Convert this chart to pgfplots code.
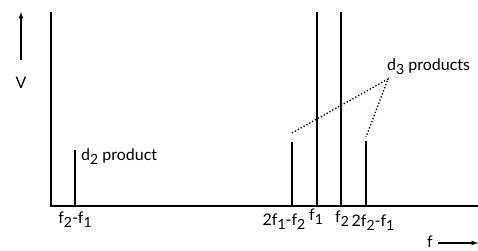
\documentclass[border=0pt]{standalone}
\usepackage{pgfplots}
\pgfplotsset{compat=1.18}
\usepackage{fontspec}
\setmainfont{Lato}
\newcommand\sub[1]{\raisebox{-0.5ex}{\fontsize{14}{14}\selectfont #1}}
\tikzset{lbl/.style={font=\fontsize{16}{16}\selectfont, inner sep=1pt}}
\begin{document}
\begin{tikzpicture}
\begin{axis}[
  x=1pt, y=1pt,
  xmin=0, xmax=478, ymin=-44, ymax=206,
  hide axis, clip=false,
]
% axes
\addplot[black, line width=1.4pt] coordinates {(51,194) (51,0) (478,0)};
% spectral lines
\addplot[ycomb, black, line width=2.6pt, mark=none] coordinates {
  (75,56) (292,64) (317,194) (341,194) (366,65)};
% dotted pointers
\addplot[black, line width=1.3pt, dotted] coordinates {(292,73) (388,127) (366,69)};
% y arrow and label
\addplot[black, line width=1.2pt, -latex] coordinates {(21,146) (21,194)};
\node[lbl] at (axis cs:21,123) {V};
% annotations
\node[lbl, anchor=west] at (axis cs:80,49) {d\sub{2} product};
\node[lbl, anchor=west] at (axis cs:386,139) {d\sub{3} products};
% tick labels
\node[lbl, anchor=base] at (axis cs:75,-17) {f\sub{2}-f\sub{1}};
\node[lbl, anchor=base] at (axis cs:284,-19) {2f\sub{1}-f\sub{2}};
\node[lbl, anchor=base] at (axis cs:316,-14) {f\sub{1}};
\node[lbl, anchor=base] at (axis cs:342,-16) {f\sub{2}};
\node[lbl, anchor=base] at (axis cs:373,-20) {2f\sub{2}-f\sub{1}};
% f axis arrow
\node[lbl, anchor=base] at (axis cs:430,-41) {f};
\addplot[black, line width=1.2pt, -latex] coordinates {(438,-37) (478,-37)};
\end{axis}
\pgfresetboundingbox
\path (current axis.south west) rectangle (current axis.north east);
\end{tikzpicture}
\end{document}
